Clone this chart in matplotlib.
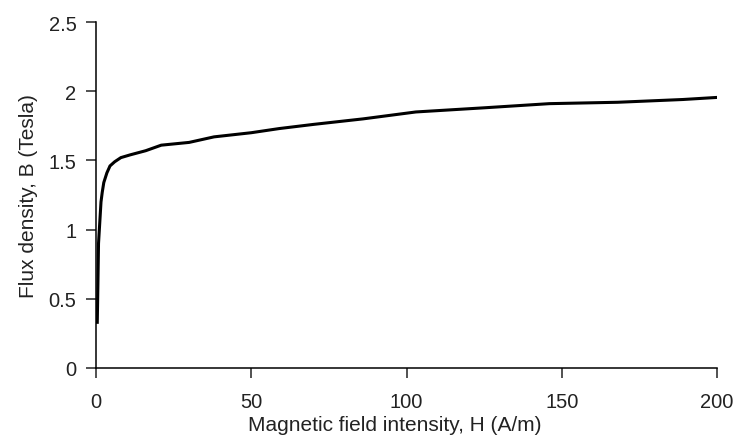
import numpy as np
import matplotlib.pyplot as plt

# B-H magnetisation curve
H = [0.4, 0.6, 0.8, 1.2, 1.6, 2.0, 2.5, 3.5, 4.5, 6, 8, 11, 16, 21, 30, 38,
     50, 59, 70, 86, 103, 125, 146, 168, 189, 200]
B = [0.33, 0.6, 0.9, 1.05, 1.2, 1.27, 1.34, 1.41, 1.46, 1.49, 1.52, 1.54,
     1.57, 1.61, 1.63, 1.67, 1.70, 1.73, 1.76, 1.80, 1.85, 1.88, 1.91, 1.92,
     1.94, 1.955]

x_ticks = [0, 50, 100, 150, 200]
y_ticks = [0, 0.5, 1, 1.5, 2, 2.5]

plt.rcParams['font.family'] = ['Liberation Sans', 'DejaVu Sans']

fig = plt.figure(figsize=(7.37, 4.39), dpi=100)
ax = fig.add_axes([0.1303, 0.1595, 0.8426, 0.7881])

ax.plot(H, B, color='black', linewidth=2.2, solid_joinstyle='miter')

ax.set_xlim(0, 200)
ax.set_ylim(0, 2.5)
ax.set_xticks(x_ticks)
ax.set_yticks(y_ticks)
ax.set_yticklabels(['0', '0.5', '1', '1.5', '2', '2.5'])

for s in ['top', 'right']:
    ax.spines[s].set_visible(False)
for s in ['left', 'bottom']:
    ax.spines[s].set_linewidth(1.1)

ax.tick_params(direction='out', length=7, width=1.1, labelsize=14.5,
               colors='#222222')
ax.tick_params(axis='x', pad=10)
ax.tick_params(axis='y', pad=7)
ax.set_xlabel('Magnetic field intensity, H (A/m)', fontsize=15,
              color='#222222')
ax.xaxis.set_label_coords(0.4815, -0.135)
ax.set_ylabel('Flux density, B (Tesla)', fontsize=15, labelpad=8,
              color='#222222')

fig.savefig('out.png', dpi=100)
